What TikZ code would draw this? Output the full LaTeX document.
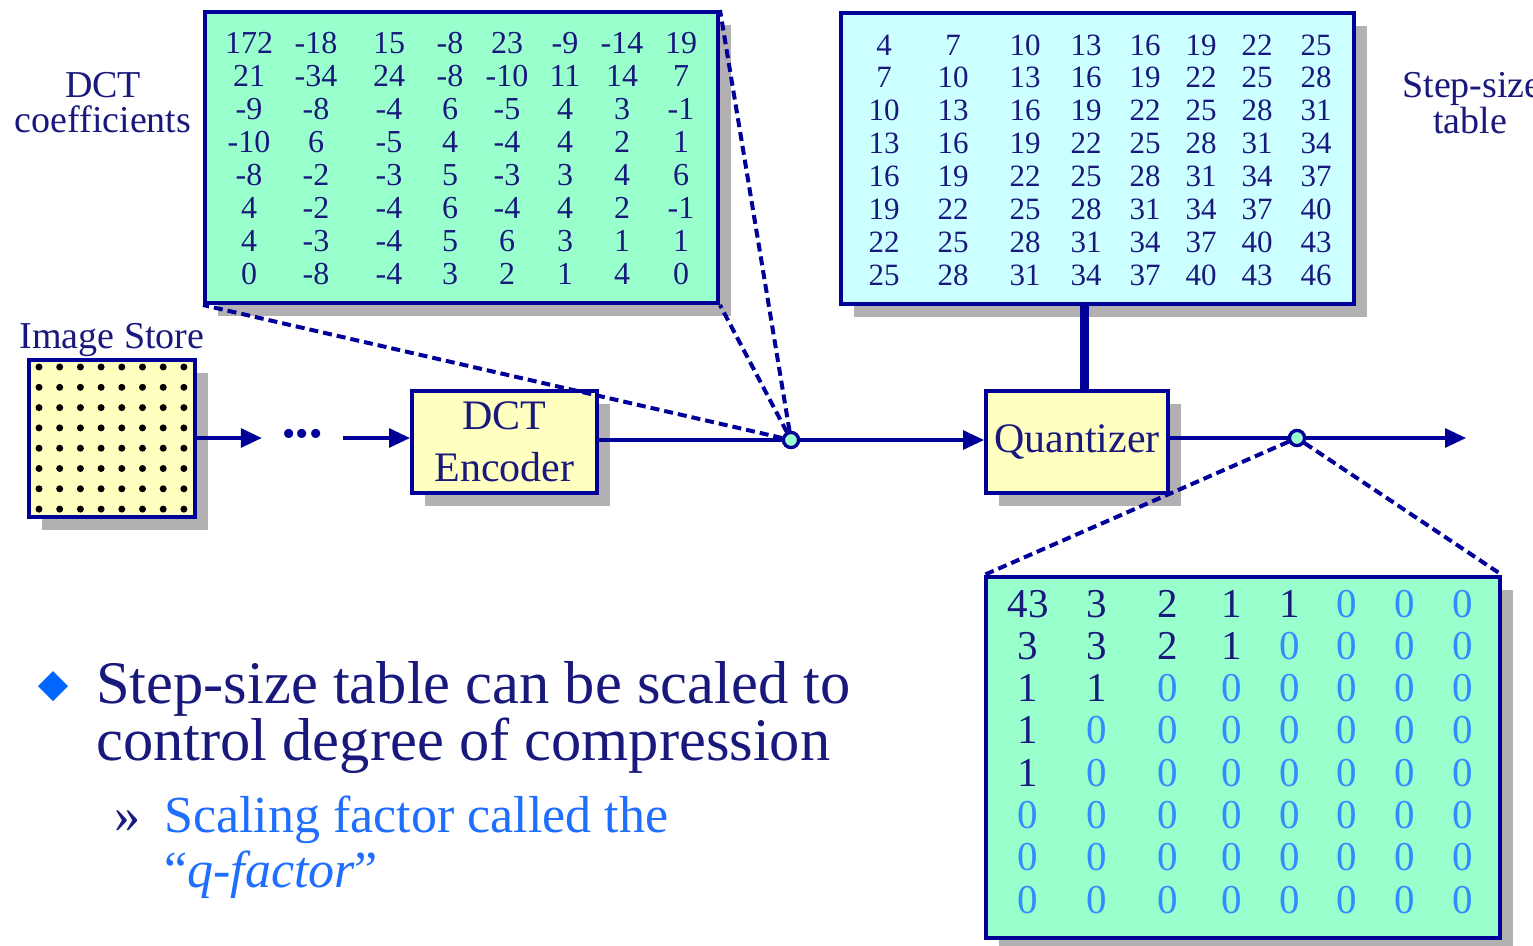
\documentclass[tikz,border=0pt]{standalone}
\usepackage{fontspec}
\setmainfont{Liberation Serif}
\usetikzlibrary{arrows.meta,shadows}
\definecolor{navy}{RGB}{0,0,153}
\definecolor{tnavy}{RGB}{25,25,125}
\definecolor{zblue}{RGB}{50,140,255}
\definecolor{sblue}{RGB}{30,110,255}
\definecolor{dia}{RGB}{0,102,255}
\definecolor{mint}{RGB}{153,255,204}
\definecolor{icy}{RGB}{204,255,255}
\definecolor{cream}{RGB}{255,255,192}
\definecolor{shade}{RGB}{178,176,178}
\newcommand{\fsz}[1]{\fontsize{#1}{#1}\selectfont}
\begin{document}
\begin{tikzpicture}[x=1pt,y=-1pt,
  box/.style={draw=navy, line width=4pt, inner sep=0pt,
    drop shadow={shadow xshift=13pt, shadow yshift=-13pt, fill=shade, opacity=1}},
  conn/.style={draw=navy, line width=3.2pt},
  arr/.style={conn, -{Triangle[length=21pt,width=19pt]}},
  dashline/.style={draw=navy, line width=4pt, dash pattern=on 9pt off 5pt},
  tap/.style={circle, draw=navy, line width=3.2pt, fill=mint, minimum size=15pt, inner sep=0pt},
  num/.style={text=tnavy, anchor=base, inner sep=0pt, font=\fsz{32}},
  qnum/.style={text=tnavy, anchor=base, inner sep=0pt, font=\fsz{41}},
  lbl/.style={text=tnavy, anchor=base, inner sep=0pt, font=\fsz{38}},
  big/.style={text=tnavy, anchor=base west, inner sep=0pt, font=\fsz{60.5}},
  sub/.style={text=sblue, anchor=base west, inner sep=0pt, font=\fsz{52}}]
\clip (0,0) rectangle (1533,945);
\fill[white] (0,0) rectangle (1533,945);

% boxes
\node[box, fill=mint, minimum width=513pt, minimum height=291pt] (dct) at (461.5,157.5) {};
\node[box, fill=icy, minimum width=513pt, minimum height=291pt] (step) at (1097,158.5) {};
\node[box, fill=cream, minimum width=166pt, minimum height=157pt] (img) at (112,438.5) {};
\node[box, fill=cream, minimum width=185pt, minimum height=102pt, align=center,
      text=tnavy, font=\fontsize{42}{52}\selectfont] (enc) at (504.5,442) {DCT\\Encoder};
\node[box, fill=cream, minimum width=182pt, minimum height=102pt,
      text=tnavy, font=\fsz{42}] (quant) at (1077,442) {Quantizer};
\node[box, fill=mint, minimum width=514pt, minimum height=361pt] (qt) at (1243,757.5) {};

% image store dots
\foreach \i in {0,...,7} \foreach \j in {0,...,7}
  \fill[black] (39+20.7*\i, 367+20.3*\j) circle (3.5pt);

% labels
\node[lbl] (l1) at (103,97) {DCT};
\node[lbl] (l2) at (103,132) {coefficients};
\node[lbl] (l3) at (1472,97) {Step-size};
\node[lbl] (l4) at (1470,133) {table};
\node[lbl, font=\fsz{38}] (l5) at (112,348) {Image Store};

% DCT coefficient table
\foreach \row [count=\r] in {{172,-18,15,-8,23,-9,-14,19},{21,-34,24,-8,-10,11,14,7},
  {-9,-8,-4,6,-5,4,3,-1},{-10,6,-5,4,-4,4,2,1},{-8,-2,-3,5,-3,3,4,6},
  {4,-2,-4,6,-4,4,2,-1},{4,-3,-4,5,6,3,1,1},{0,-8,-4,3,2,1,4,0}}{
  \foreach \v [count=\c] in \row {
    \pgfmathsetmacro\xx{{249,316,389,450,507,565,622,681}[\c-1]}
    \node[num] (d-\r-\c) at (\xx, 53+33*\r-33) {\v};
  }
}
% step-size table
\foreach \row [count=\r] in {{4,7,10,13,16,19,22,25},{7,10,13,16,19,22,25,28},
  {10,13,16,19,22,25,28,31},{13,16,19,22,25,28,31,34},{16,19,22,25,28,31,34,37},
  {19,22,25,28,31,34,37,40},{22,25,28,31,34,37,40,43},{25,28,31,34,37,40,43,46}}{
  \foreach \v [count=\c] in \row {
    \pgfmathsetmacro\xx{{884,953,1025,1086,1145,1201,1257,1316}[\c-1]}
    \node[num, font=\fsz{31}] (s-\r-\c) at (\xx, 55+32.9*\r-32.9) {\v};
  }
}
% quantized table
\foreach \row [count=\r] in {{43,3,2,1,1,0,0,0},{3,3,2,1,0,0,0,0},
  {1,1,0,0,0,0,0,0},{1,0,0,0,0,0,0,0},{1,0,0,0,0,0,0,0},
  {0,0,0,0,0,0,0,0},{0,0,0,0,0,0,0,0},{0,0,0,0,0,0,0,0}}{
  \foreach \v [count=\c] in \row {
    \pgfmathsetmacro\xx{{1028,1097,1168,1232,1290,1347,1405,1463}[\c-1]}
    \node[qnum] (q-\r-\c) at (\xx, 617+42.3*\r-42.3) {\ifnum\v=0 \color{zblue}\fi\v};
  }
}

% flow
\node[text=navy, inner sep=0pt, minimum width=81pt, font=\fsz{38}] (dots) at (302.5,438) {•••};
\node[tap] (c1) at (791,440) {};
\node[tap] (c2) at (1297,438) {};
\coordinate (out) at (1466,438);
\coordinate (qx) at (1084,0);

\draw[arr] (img.east |- dots) -- (dots.west);
\draw[arr] (dots.east) -- (enc.west |- dots);
\draw[conn] (enc.east |- c1) -- (c1);
\draw[arr] (c1) -- (quant.west |- c1);
\draw[conn] (quant.east |- c2) -- (c2);
\draw[arr] (c2) -- (out);
\draw[navy, line width=9pt] (step.south -| qx) -- (quant.north -| qx);

\draw[dashline] (c1) -- (dct.south west);
\draw[dashline] (c1) -- (dct.south east);
\draw[dashline] (c1) -- (dct.north east);
\draw[dashline] (c2) -- (qt.north west);
\draw[dashline] (c2) -- (qt.north east);
\node[tap] at (c1) {};
\node[tap] at (c2) {};

% bullets
\fill[dia] (53,671) -- (68,686) -- (53,701) -- (38,686) -- cycle;
\node[big] (b1) at (96,703) {Step-size table can be scaled to};
\node[big] (b2) at (96,760) {control degree of compression};
\node[big, font=\fsz{52}] (s0) at (114,832) {»};
\node[sub] (s1) at (164,832) {Scaling factor called the};
\node[sub] (s2) at (164,887) {“\textit{q-factor}”};
\end{tikzpicture}
\end{document}
